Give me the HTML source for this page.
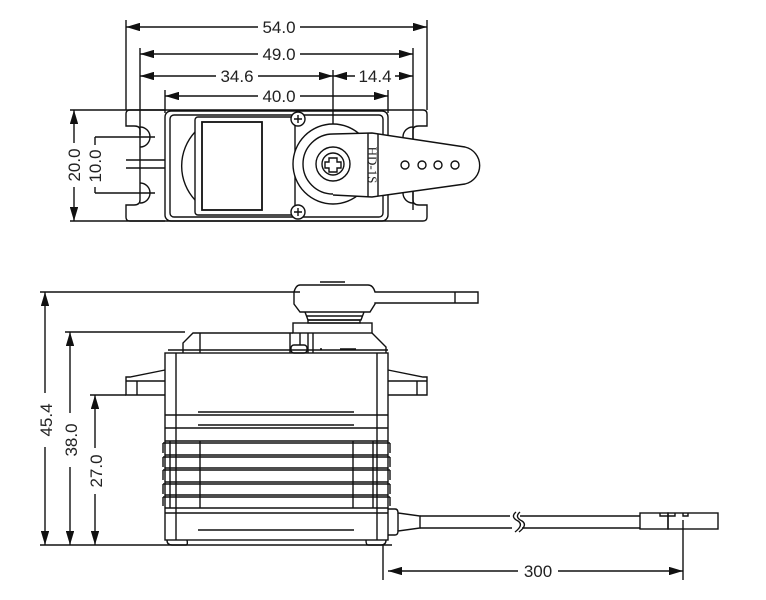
<!DOCTYPE html>
<html><head><style>
body{margin:0;background:#fff}
svg{display:block}
text{font-family:"Liberation Sans",sans-serif;font-size:17px;fill:#222}
</style></head><body>
<svg width="766" height="600" viewBox="0 0 766 600" xmlns="http://www.w3.org/2000/svg">
<defs>
<marker id="a" viewBox="0 0 10 6" refX="10" refY="3" markerWidth="10" markerHeight="6" orient="auto-start-reverse"><path d="M0,0 L10,3 L0,6z" fill="#111"/></marker>
</defs>
<g stroke="#111" stroke-width="1.4" fill="none">
<line x1="126" y1="20" x2="126" y2="110"/><line x1="427" y1="20" x2="427" y2="110"/>
<line x1="140" y1="48" x2="140" y2="135"/><line x1="413" y1="48" x2="413" y2="210"/>
<line x1="165" y1="90" x2="165" y2="113"/><line x1="388" y1="90" x2="388" y2="113"/>
<line x1="333" y1="70" x2="333" y2="168"/>
<line x1="126" y1="27" x2="258" y2="27" marker-start="url(#a)"/><line x1="300" y1="27" x2="427" y2="27" marker-end="url(#a)"/>
<line x1="140" y1="54" x2="258" y2="54" marker-start="url(#a)"/><line x1="300" y1="54" x2="413" y2="54" marker-end="url(#a)"/>
<line x1="140" y1="76" x2="216" y2="76" marker-start="url(#a)"/><line x1="258" y1="76" x2="333" y2="76" marker-end="url(#a)"/>
<line x1="333" y1="76" x2="355" y2="76" marker-start="url(#a)"/><line x1="395" y1="76" x2="413" y2="76" marker-end="url(#a)"/>
<line x1="165" y1="96" x2="258" y2="96" marker-start="url(#a)"/><line x1="300" y1="96" x2="388" y2="96" marker-end="url(#a)"/>
<line x1="70" y1="110" x2="165" y2="110"/><line x1="70" y1="221" x2="165" y2="221"/>
<line x1="74" y1="110" x2="74" y2="143" marker-start="url(#a)"/><line x1="74" y1="187" x2="74" y2="221" marker-end="url(#a)"/>
<line x1="95" y1="137" x2="155" y2="137"/><line x1="95" y1="193" x2="155" y2="193"/>
<line x1="95" y1="137" x2="95" y2="145"/><line x1="95" y1="187" x2="95" y2="193"/>
<path d="M130,110 H423 Q427,110 427,114 V126 H419 Q413,126 413,130 M413,130 V200 Q413,205 419,205 H427 V217 Q427,221 423,221 H130 Q126,221 126,217 V205 H134 Q140,205 140,200 V130 Q140,126 134,126 H126 V114 Q126,110 130,110"/>
<path d="M140,127 A10,10 0 0 1 140,147 M140,183 A10,10 0 0 1 140,203"/>
<path d="M413,127 A10,10 0 0 0 413,147 M413,183 A10,10 0 0 0 413,203"/>
<line x1="126" y1="160" x2="165" y2="160"/><line x1="126" y1="168" x2="165" y2="168"/>
<rect x="165" y="111" width="223" height="110" rx="6"/>
<rect x="170" y="115" width="213" height="102" rx="4"/>
<rect x="195" y="117" width="100" height="98" rx="3"/>
<rect x="202" y="122" width="60" height="88" stroke-width="1.8"/>
<path d="M195,132 A50,50 0 0 0 195,200"/>
<circle cx="298" cy="119" r="7" fill="#fff"/><circle cx="298" cy="212" r="7" fill="#fff"/>
<path d="M294,119h8M298,115v8M294,212h8M298,208v8"/>
<circle cx="333" cy="164" r="40" fill="#fff"/>
<path d="M333,134 L372,133 L465,147 A19,19 0 0 1 465,184 L372,197 L333,195" fill="#fff"/>
<path d="M333,134 A30,30 0 0 0 333,194"/>
<circle cx="333" cy="164" r="17"/>
<circle cx="333" cy="164" r="11"/>
<path d="M329,158h8v4h4v6h-4v4h-8v-4h-4v-6h4z"/>
<line x1="378" y1="134" x2="378" y2="196"/><line x1="368" y1="133" x2="368" y2="197"/>
<circle cx="405" cy="165" r="4"/><circle cx="422" cy="165" r="4"/><circle cx="438" cy="165" r="4"/><circle cx="455" cy="165" r="4"/>
<line x1="40" y1="292" x2="300" y2="292"/><line x1="65" y1="332" x2="185" y2="332"/><line x1="90" y1="395" x2="126" y2="395"/>
<line x1="40" y1="545" x2="392" y2="545"/>
<line x1="45" y1="292" x2="45" y2="393" marker-start="url(#a)"/><line x1="45" y1="447" x2="45" y2="545" marker-end="url(#a)"/>
<line x1="70" y1="332" x2="70" y2="413" marker-start="url(#a)"/><line x1="70" y1="467" x2="70" y2="545" marker-end="url(#a)"/>
<line x1="95" y1="395" x2="95" y2="448" marker-start="url(#a)"/><line x1="95" y1="494" x2="95" y2="545" marker-end="url(#a)"/>
<path d="M300,285 Q296,285 294,292 V304 L300,312 H370 L375,304 V303 H478 V292 H375 Q373,285 368,285 Z"/>
<line x1="455" y1="292" x2="455" y2="303"/>
<path d="M320,282 H345" />
<path d="M305,312 L308,320 H361 L364,312 M306,316 H363"/>
<rect x="308" y="320" width="52" height="3"/>
<rect x="293" y="323" width="79" height="10"/>
<path d="M183,353 V343 L193,333 H200 V353 M200,333 H293 M372,333 L386,347 V353"/>
<path d="M290,333 V353 M300,333 V345 M308,333 V353 M313,333 V353"/>
<rect x="291" y="345" width="16" height="8" rx="3"/>
<path d="M168,350 H388 M320,349 H322 M340,349 H356"/>
<rect x="165" y="353" width="223" height="187"/>
<line x1="176" y1="353" x2="176" y2="540"/><line x1="377" y1="353" x2="377" y2="540"/>
<path d="M165,370 L130,377 H126 V395 H165 M388,370 L423,377 H427 V395 H388"/>
<line x1="126" y1="381" x2="165" y2="381"/><line x1="388" y1="381" x2="427" y2="381"/>
<line x1="137" y1="381" x2="137" y2="395"/><line x1="417" y1="381" x2="417" y2="395"/>
<line x1="165" y1="415" x2="388" y2="415"/><line x1="198" y1="412" x2="354" y2="412"/>
<line x1="165" y1="428" x2="388" y2="428"/><line x1="198" y1="425" x2="354" y2="425"/>
<path d="M165,441H388M163,443H390M165,455H388M163,457H390M165,468H388M163,470H390M165,482H388M163,484H390M165,495H388M163,497H390M165,508H388"/>
<path d="M163,443v10M163,457v10M163,470v10M163,484v10M163,497v9M390,443v10M390,457v10M390,470v10M390,484v10M390,497v9"/>
<path d="M170,441V508M200,441V508M353,441V508M373,441V508"/>
<line x1="165" y1="513" x2="388" y2="513"/>
<line x1="198" y1="530" x2="354" y2="530"/>
<path d="M167,540 Q167,545 172,545 H186 Q188,545 187,540 M386,540 Q386,545 381,545 H368 Q366,545 366,540"/>
<path d="M388,509 H395 Q398,509 398,513 L420,516 V528 L398,531 Q398,535 395,535 H388"/>
<line x1="398" y1="513" x2="398" y2="531"/>
<line x1="420" y1="516" x2="510" y2="516"/><line x1="520" y1="516" x2="640" y2="516"/>
<line x1="420" y1="528" x2="512" y2="528"/><line x1="522" y1="528" x2="640" y2="528"/>
<path d="M516,512 Q510,517 518,521 Q524,525 515,532 M520,512 Q514,517 522,521 Q528,525 519,532"/>
<rect x="640" y="513" width="28" height="16"/>
<rect x="668" y="513" width="50" height="16"/>
<path d="M660,513 V516 H675 V513 M683,513 V516 H688 V513"/>
<line x1="383" y1="545" x2="383" y2="580"/><line x1="683" y1="520" x2="683" y2="580"/>
<line x1="388" y1="571" x2="518" y2="571" marker-start="url(#a)"/><line x1="558" y1="571" x2="683" y2="571" marker-end="url(#a)"/>
</g>
<g>
<text x="279" y="33" text-anchor="middle">54.0</text>
<text x="279" y="60" text-anchor="middle">49.0</text>
<text x="237" y="82" text-anchor="middle">34.6</text>
<text x="375" y="82" text-anchor="middle">14.4</text>
<text x="279" y="102" text-anchor="middle">40.0</text>
<text transform="translate(80,165) rotate(-90)" text-anchor="middle">20.0</text>
<text transform="translate(101,166) rotate(-90)" text-anchor="middle">10.0</text>
<text transform="translate(52,420) rotate(-90)" text-anchor="middle">45.4</text>
<text transform="translate(77,440) rotate(-90)" text-anchor="middle">38.0</text>
<text transform="translate(102,471) rotate(-90)" text-anchor="middle">27.0</text>
<text x="538" y="577" text-anchor="middle">300</text>
<text transform="translate(368,165) rotate(90)" text-anchor="middle" style="font-family:'Liberation Serif',serif;font-size:13px">HD-1S</text>
</g>
</svg>
</body></html>
